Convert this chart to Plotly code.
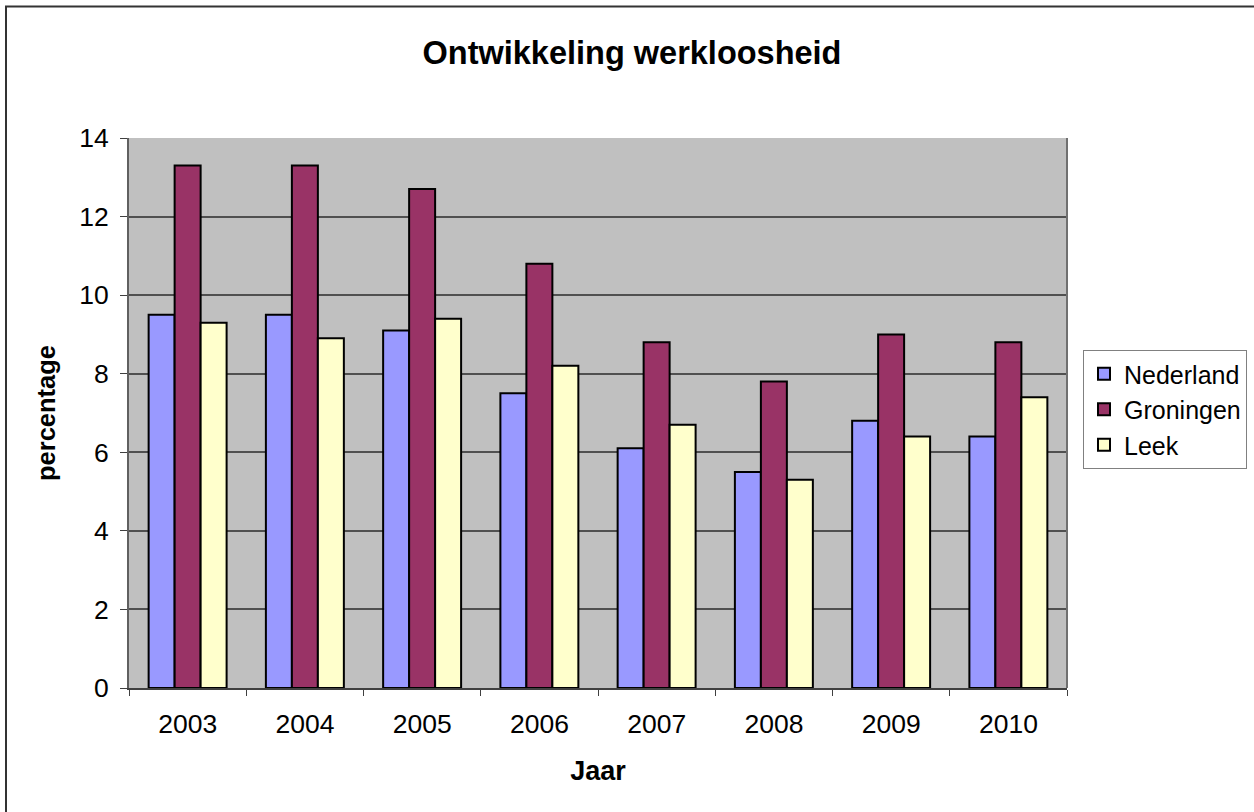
import plotly.graph_objects as go

years = ["2003", "2004", "2005", "2006", "2007", "2008", "2009", "2010"]
nederland = [9.5, 9.5, 9.1, 7.5, 6.1, 5.5, 6.8, 6.4]
groningen = [13.3, 13.3, 12.7, 10.8, 8.8, 7.8, 9.0, 8.8]
leek = [9.3, 8.9, 9.4, 8.2, 6.7, 5.3, 6.4, 7.4]

series_names = ["Nederland", "Groningen", "Leek"]
series_colors = ["#9999FF", "#993366", "#FFFFCC"]

W, H = 1254, 812
ML, MR, MT, MB = 129, 187, 138, 124
PW, PH = W - ML - MR, H - MT - MB

FONT = "Arial, Liberation Sans, sans-serif"

fig = go.Figure()
for name, vals, col in zip(series_names, [nederland, groningen, leek], series_colors):
    fig.add_trace(go.Bar(
        x=years, y=vals, name=name,
        marker=dict(color=col, line=dict(color="black", width=2)),
    ))

def px_x(px):
    return (px - ML) / PW

def px_y(py):
    return (H - MB - py) / PH

fig.update_layout(
    width=W, height=H,
    margin=dict(l=ML, r=MR, t=MT, b=MB, autoexpand=False),
    paper_bgcolor="white",
    plot_bgcolor="#C0C0C0",
    barmode="group",
    bargap=0.335,
    bargroupgap=0,
    font=dict(family=FONT, color="black", size=26),
    title=dict(text="<b>Ontwikkeling werkloosheid</b>", x=px_x(632), xref="paper",
               xanchor="center", y=1 - 53 / H, yanchor="middle",
               font=dict(size=32.5, family=FONT)),
    legend=dict(x=px_x(1083), y=px_y(350), xanchor="left", yanchor="top",
                bordercolor="#808080", borderwidth=1, bgcolor="white",
                font=dict(size=25, family=FONT), tracegroupgap=0),
    xaxis=dict(
        type="category",
        showgrid=False,
        ticks="outside", tickson="boundaries", ticklen=6, tickcolor="#404040",
        showline=True, linecolor="#404040", linewidth=2,
        tickfont=dict(size=26.5), ticklabelstandoff=11,
        title=dict(text="<b>Jaar</b>", font=dict(size=27), standoff=23),
    ),
    yaxis=dict(
        range=[0, 14], dtick=2,
        showgrid=True, gridcolor="#505050", gridwidth=1.5,
        ticks="outside", ticklen=7, tickcolor="#404040",
        showline=True, linecolor="#606060", linewidth=2,
        zeroline=False,
        tickfont=dict(size=26.5), ticklabelstandoff=6,
        title=dict(text="<b>percentage</b>", font=dict(size=25.5), standoff=16),
    ),
    shapes=[
        dict(type="line", xref="paper", yref="paper",
             x0=1, x1=1, y0=0, y1=1, line=dict(color="#707070", width=2)),
        dict(type="rect", xref="paper", yref="paper",
             x0=px_x(6), x1=px_x(1258), y0=px_y(816), y1=px_y(6.5),
             line=dict(color="#333333", width=2), fillcolor="rgba(0,0,0,0)",
             layer="below"),
    ],
)

fig.write_html(
    "out.html",
    config={"displayModeBar": False},
    post_script="document.body.style.margin='0px';document.body.style.overflow='hidden';",
)
